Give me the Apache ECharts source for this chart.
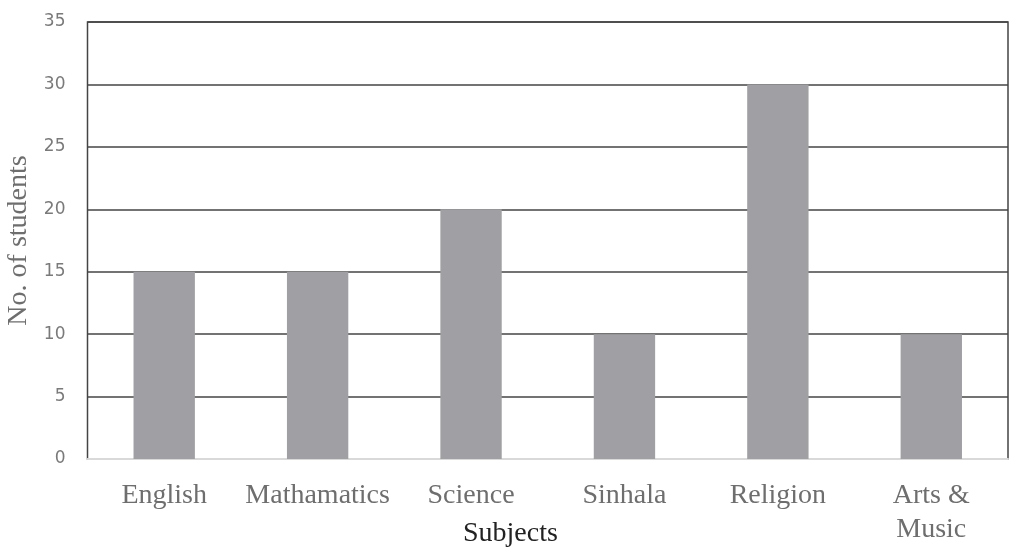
<!DOCTYPE html>
<html>
<head>
<meta charset="utf-8">
<script src="https://cdn.jsdelivr.net/npm/echarts@6/dist/echarts.min.js"></script>
<style>html,body{margin:0;padding:0;background:#fff;}#c{width:1009px;height:548px;}</style>
</head>
<body>
<div id="c"></div>
<script>
const categories = ['English', 'Mathamatics', 'Science', 'Sinhala', 'Religion', 'Arts &\nMusic'];
const students = [15, 15, 20, 10, 30, 10];
const yTicks = { min: 0, max: 35, interval: 5 };

const chart = echarts.init(document.getElementById('c'));
chart.setOption({
  animation: false,
  backgroundColor: '#ffffff',
  grid: { left: 87.5, right: 1, top: 22, bottom: 89, containLabel: false, outerBoundsMode: 'none', show: true, borderColor: '#444', borderWidth: 1.5, backgroundColor: 'transparent' },
  xAxis: {
    type: 'category',
    data: categories,
    axisTick: { show: false },
    axisLine: { show: true, lineStyle: { color: '#d9d9d9', width: 2 } },
    axisLabel: { fontFamily: 'Liberation Serif', fontSize: 28, color: '#6e6e6e', margin: 20, lineHeight: 34, interval: 0 }
  },
  yAxis: {
    type: 'value',
    min: yTicks.min, max: yTicks.max, interval: yTicks.interval,
    name: 'No. of students',
    nameLocation: 'middle',
    nameGap: 55,
    nameTextStyle: { fontFamily: 'Liberation Serif', fontSize: 28, color: '#6e6e6e' },
    axisLine: { show: false },
    axisTick: { show: false },
    axisLabel: { fontFamily: 'DejaVu Sans', fontSize: 17, color: '#7a7a7a', margin: 22 },
    splitLine: { lineStyle: { color: '#444', width: 1.5 } }
  },
  graphic: [{
    type: 'text', left: 463, top: 520,
    style: { text: 'Subjects', font: '28px "Liberation Serif"', fill: '#222' }
  }],
  series: [{
    type: 'bar',
    data: students,
    barWidth: '40%',
    itemStyle: { color: '#a0a0a4' }
  }]
});
</script>
</body>
</html>
